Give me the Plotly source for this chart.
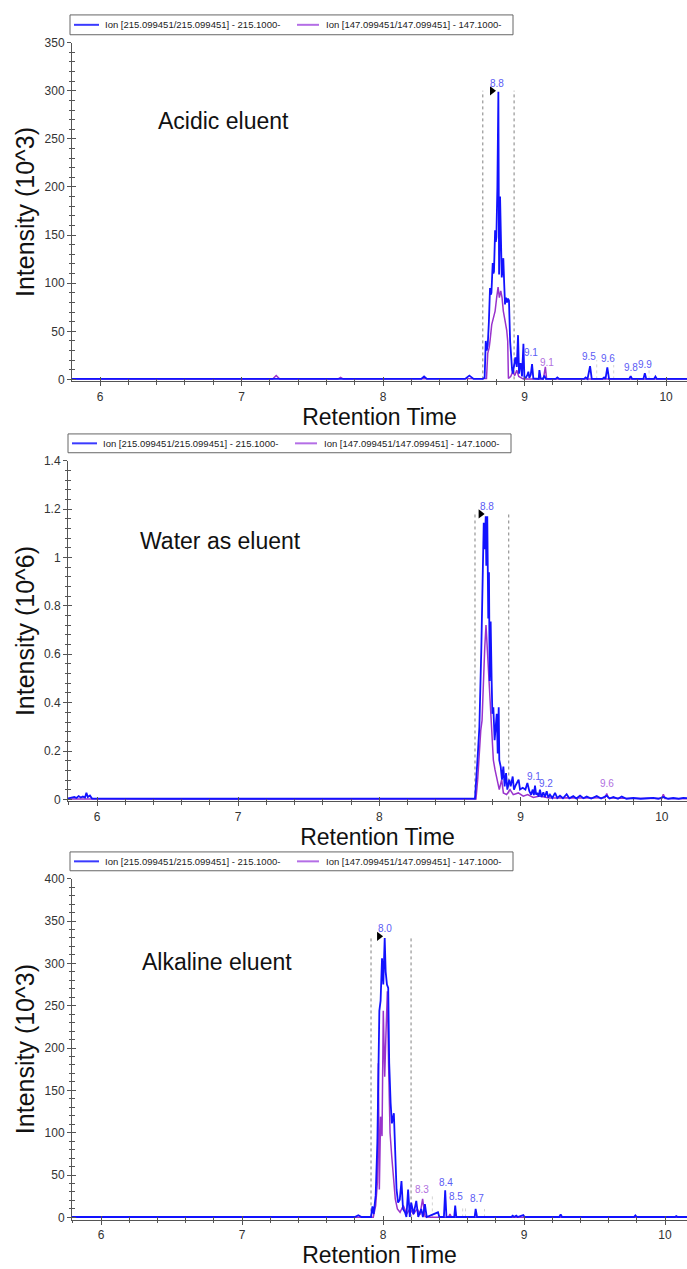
import plotly.graph_objects as go

# ---------------- DATA ----------------
NAME_215 = "Ion [215.099451/215.099451] - 215.1000-"
NAME_147 = "Ion [147.099451/147.099451] - 147.1000-"
panel_titles = ["Acidic eluent", "Water as eluent", "Alkaline eluent"]
y_titles = ["Intensity (10^3)", "Intensity (10^6)", "Intensity (10^3)"]
x_title = "Retention Time"

# (retention time, intensity) pairs
acid_215 = [(5.80, 0.5), (6.20, 0.5), (6.60, 0.5), (7.00, 0.5), (7.40, 0.5), (7.80, 0.5), (8.27, 0.5),
            (8.29, 3), (8.31, 0.5), (8.58, 0.5), (8.61, 4), (8.64, 0.5), (8.705, 0.5), (8.718, 2),
            (8.726, 40), (8.733, 30), (8.740, 36), (8.748, 60), (8.756, 95), (8.761, 88), (8.766, 90),
            (8.775, 121), (8.780, 110), (8.784, 112), (8.792, 155), (8.797, 143), (8.801, 148),
            (8.808, 200), (8.815, 299), (8.820, 109), (8.827, 190), (8.834, 154), (8.839, 106),
            (8.845, 115), (8.850, 126), (8.856, 100), (8.862, 78), (8.869, 85), (8.876, 80),
            (8.883, 84), (8.890, 82), (8.898, 40), (8.907, 16), (8.912, 10), (8.917, 6), (8.922, 12),
            (8.926, 16), (8.935, 23), (8.945, 13), (8.954, 46), (8.961, 6), (8.967, 16), (8.973, 16),
            (8.982, 3), (8.992, 37), (8.999, 1.5), (9.010, 2), (9.020, 4.6), (9.027, 8), (9.034, 1.5),
            (9.044, 5), (9.053, 16), (9.062, 1), (9.080, 0.5), (9.100, 0.5), (9.105, 9.6), (9.114, 1),
            (9.130, 0.5), (9.140, 4), (9.150, 0.5), (9.220, 0.5), (9.232, 2), (9.245, 0.5),
            (9.420, 0.5), (9.432, 2), (9.445, 0.5), (9.463, 13.7), (9.475, 0.5), (9.550, 0.5),
            (9.562, 2), (9.572, 0.5), (9.585, 12.4), (9.597, 0.5), (9.740, 0.5), (9.750, 3.5),
            (9.760, 0.5), (9.840, 0.5), (9.850, 6.5), (9.860, 0.5), (9.915, 0.5), (9.925, 3),
            (9.935, 0.5), (10.20, 0.5)]
acid_147 = [(5.80, 0.3), (6.50, 0.3), (7.22, 0.3), (7.245, 4), (7.27, 0.3), (7.68, 0.3), (7.70, 2),
            (7.72, 0.3), (8.72, 0.3), (8.731, 1), (8.740, 27), (8.750, 33), (8.756, 40), (8.768, 57),
            (8.780, 64), (8.792, 71), (8.803, 85), (8.813, 96), (8.822, 85), (8.832, 92), (8.841, 85),
            (8.850, 71), (8.862, 61), (8.874, 51), (8.881, 40), (8.886, 1), (8.902, 3), (8.917, 8),
            (8.931, 4), (8.945, 9.6), (8.959, 3), (8.978, 1.5), (8.992, 0.3), (9.133, 0.3),
            (9.147, 13), (9.156, 0.3), (10.20, 0.3)]

water_215 = [(5.79, 0.004), (5.82, 0.006), (5.84, 0.010), (5.855, 0.006), (5.87, 0.014), (5.885, 0.008),
             (5.90, 0.012), (5.915, 0.008), (5.925, 0.028), (5.935, 0.010), (5.95, 0.016),
             (5.965, 0.004), (6.10, 0.003), (6.50, 0.003), (7.00, 0.003), (7.50, 0.003), (8.00, 0.003),
             (8.50, 0.003), (8.665, 0.003), (8.677, 0.004), (8.696, 0.177), (8.708, 0.299),
             (8.722, 0.626), (8.732, 0.898), (8.739, 1.143), (8.746, 1.034), (8.753, 1.170),
             (8.757, 0.966), (8.764, 1.170), (8.771, 0.748), (8.776, 0.939), (8.781, 0.490),
             (8.788, 0.735), (8.795, 0.490), (8.800, 0.354), (8.807, 0.381), (8.816, 0.245),
             (8.831, 0.354), (8.838, 0.190), (8.845, 0.381), (8.849, 0.163), (8.859, 0.136),
             (8.868, 0.082), (8.878, 0.136), (8.887, 0.054), (8.897, 0.109), (8.906, 0.041),
             (8.920, 0.082), (8.930, 0.054), (8.944, 0.095), (8.953, 0.041), (8.967, 0.061),
             (8.986, 0.082), (8.996, 0.041), (9.015, 0.048), (9.034, 0.041), (9.048, 0.068),
             (9.062, 0.034), (9.074, 0.020), (9.086, 0.041), (9.094, 0.018), (9.102, 0.057),
             (9.110, 0.020), (9.118, 0.027), (9.128, 0.012), (9.137, 0.041), (9.148, 0.010),
             (9.161, 0.030), (9.172, 0.010), (9.185, 0.034), (9.196, 0.008), (9.208, 0.020),
             (9.225, 0.006), (9.244, 0.027), (9.260, 0.006), (9.279, 0.016), (9.300, 0.005),
             (9.326, 0.022), (9.345, 0.005), (9.373, 0.014), (9.395, 0.004), (9.421, 0.016),
             (9.445, 0.005), (9.468, 0.012), (9.500, 0.004), (9.539, 0.014), (9.570, 0.004),
             (9.610, 0.016), (9.630, 0.004), (9.657, 0.010), (9.690, 0.003), (9.716, 0.012),
             (9.750, 0.003), (9.798, 0.006), (9.850, 0.003), (9.900, 0.005), (9.940, 0.007),
             (9.975, 0.003), (10.011, 0.010), (10.045, 0.003), (10.081, 0.006), (10.120, 0.003),
             (10.152, 0.007), (10.20, 0.004)]
water_147 = [(5.79, 0.002), (8.684, 0.002), (8.696, 0.082), (8.708, 0.218), (8.718, 0.286),
             (8.727, 0.327), (8.736, 0.490), (8.746, 0.626), (8.755, 0.721), (8.764, 0.626),
             (8.774, 0.490), (8.783, 0.381), (8.795, 0.286), (8.807, 0.163), (8.819, 0.122),
             (8.835, 0.082), (8.849, 0.041), (8.866, 0.082), (8.878, 0.027), (8.901, 0.020),
             (8.925, 0.041), (8.948, 0.020), (8.984, 0.027), (9.019, 0.014), (9.050, 0.020),
             (9.090, 0.008), (9.137, 0.014), (9.200, 0.006), (9.300, 0.008), (9.373, 0.007),
             (9.450, 0.006), (9.598, 0.007), (9.610, 0.025), (9.621, 0.007), (9.700, 0.005),
             (9.845, 0.004), (9.999, 0.004), (10.011, 0.022), (10.023, 0.004), (10.20, 0.003)]

alk_215 = [(5.79, 0.5), (6.50, 0.5), (7.00, 0.5), (7.50, 0.5), (7.80, 0.5), (7.825, 2.5), (7.848, 0.5),
           (7.915, 0.5), (7.925, 13), (7.934, 4), (7.948, 26), (7.960, 88), (7.974, 244), (7.983, 256),
           (7.993, 306), (8.002, 275), (8.012, 330), (8.019, 290), (8.028, 275), (8.037, 271),
           (8.044, 182), (8.054, 135), (8.063, 111), (8.077, 123), (8.086, 72), (8.096, 33),
           (8.107, 17.5), (8.119, 21), (8.131, 43), (8.142, 10), (8.156, 6), (8.166, 0.5), (8.178, 33),
           (8.190, 0.5), (8.200, 17.5), (8.217, 4), (8.236, 19.5), (8.250, 0.5), (8.271, 10),
           (8.283, 0.5), (8.297, 15.6), (8.310, 0.5), (8.390, 6), (8.400, 0.5), (8.432, 0.5),
           (8.441, 32), (8.450, 0.5), (8.505, 0.5), (8.512, 14), (8.520, 0.5), (8.650, 0.5),
           (8.657, 10), (8.667, 0.5), (8.91, 0.5), (8.92, 2), (8.93, 0.5), (8.945, 2), (8.955, 0.5),
           (8.995, 2.7), (9.005, 0.5), (9.25, 0.5), (9.26, 3.5), (9.27, 0.5), (9.78, 0.5), (9.79, 2.5),
           (9.80, 0.5), (10.07, 0.5), (10.08, 1.5), (10.09, 0.5), (10.20, 0.5)]
alk_147 = [(5.79, 0.3), (7.931, 0.3), (7.948, 14), (7.960, 41), (7.967, 182), (7.974, 33), (7.983, 119),
           (7.993, 96), (8.002, 244), (8.012, 166), (8.021, 217), (8.031, 267), (8.040, 178),
           (8.050, 100), (8.062, 72), (8.073, 45), (8.087, 22), (8.102, 10), (8.121, 6), (8.144, 14),
           (8.168, 4), (8.191, 10), (8.215, 4), (8.243, 10), (8.262, 3), (8.281, 22), (8.298, 1),
           (8.333, 0.3), (8.465, 0.3), (8.475, 4), (8.485, 0.3), (10.20, 0.3)]

# peak labels: (text, rt, intensity, series)
acid_labels = [("8.8", 8.806, 308, "215"), ("9.1", 9.045, 27.5, "215"), ("9.1", 9.158, 18, "147"),
               ("9.5", 9.456, 23.7, "215"), ("9.6", 9.588, 21.6, "215"), ("9.8", 9.75, 12.4, "215"),
               ("9.9", 9.85, 15.4, "215")]
water_labels = [("8.8", 8.76, 1.21, "215"), ("9.1", 9.095, 0.095, "215"), ("9.2", 9.18, 0.068, "215"),
                ("9.6", 9.61, 0.064, "147")]
alk_labels = [("8.0", 8.014, 341, "215"), ("8.3", 8.279, 33.5, "147"), ("8.4", 8.447, 41, "215"),
              ("8.5", 8.52, 24.5, "215"), ("8.7", 8.669, 22, "215")]

# integration window (start, end, height) and apex marker (rt, intensity)
acid_window = (8.705, 8.926, 300)
water_window = (8.677, 8.916, 1.18)
alk_window = (7.915, 8.199, 330)
acid_marker = (8.770, 300)
water_marker = (8.717, 1.18)
alk_marker = (7.972, 332)
# faint boundaries of minor peaks (rt, height)
acid_minor = [(9.51, 20), (9.63, 15), (9.88, 12)]
water_minor = []
alk_minor = [(8.35, 25), (8.565, 12), (8.585, 12), (8.72, 10)]

y_ranges = [(-2, 350), (-0.008, 1.4), (-2.5, 400)]
y_dticks = [(50, 10), (0.2, 0.04), (50, 10)]
x_ranges = [(5.802, 10.148), (5.7946, 10.1785), (5.7943, 10.156)]

# ---------------- FIGURE ----------------
W, H = 687, 1269
BLUE = "#1212ff"
PURPLE = "#9933cc"
LEG_BLUE = "#3a3aff"
LEG_PURPLE = "#b46ee6"
LBL_BLUE = "#5c5cf5"
LBL_PURPLE = "#b070e0"
AX = "#555555"
FONT = "Liberation Sans"

panels = [
    dict(s215=acid_215, s147=acid_147, labels=acid_labels, window=acid_window, marker=acid_marker,
         minor=acid_minor, ydom=(1 - 377.9 / H, 1 - 36 / H), xdom=(72 / W, 1.0),
         title_pos=(156, 115), legend_box=(70, 8, 513, 28)),
    dict(s215=water_215, s147=water_147, labels=water_labels, window=water_window, marker=water_marker,
         minor=water_minor, ydom=(1 - 802 / H, 1 - 458 / H), xdom=(68 / W, 1.0),
         title_pos=(138, 539), legend_box=(68, 431, 511, 450)),
    dict(s215=alk_215, s147=alk_147, labels=alk_labels, window=alk_window, marker=alk_marker,
         minor=alk_minor, ydom=(1 - 1224.1 / H, 1 - 880 / H), xdom=(72 / W, 1.0),
         title_pos=(140, 964), legend_box=(70, 853, 513, 872)),
]

fig = go.Figure()
layout = dict(width=W, height=H, margin=dict(l=0, r=0, t=0, b=0), autosize=False, showlegend=False,
              paper_bgcolor="white", plot_bgcolor="white", font=dict(family=FONT, color="#222"),
              shapes=[], annotations=[])


def px_x(v):
    return v / W


def px_y(v):
    return 1 - v / H


for i, p in enumerate(panels, start=1):
    sx = "" if i == 1 else str(i)
    xa, ya = "x" + sx, "y" + sx
    ox, oy = "x" + str(i + 3), "y" + str(i + 3)

    t147, v147 = zip(*p["s147"])
    t215, v215 = zip(*p["s215"])
    fig.add_trace(go.Scatter(x=t147, y=v147, mode="lines", name=NAME_147,
                             line=dict(color=PURPLE, width=1.5), xaxis=xa, yaxis=ya, hoverinfo="skip"))
    fig.add_trace(go.Scatter(x=t215, y=v215, mode="lines", name=NAME_215,
                             line=dict(color=BLUE, width=1.8), xaxis=xa, yaxis=ya, hoverinfo="skip"))
    fig.add_trace(go.Scatter(x=[p["marker"][0]], y=[p["marker"][1]], mode="markers",
                             marker=dict(symbol="triangle-right", size=8, color="black"),
                             xaxis=xa, yaxis=ya, hoverinfo="skip", cliponaxis=False))
    fig.add_trace(go.Scatter(x=[None], y=[None], xaxis=ox, yaxis=oy, hoverinfo="skip"))

    x0, x1 = x_ranges[i - 1]
    y0, y1 = y_ranges[i - 1]
    dt, mdt = y_dticks[i - 1]
    common_x = dict(range=[x0, x1], domain=list(p["xdom"]), dtick=1, tick0=0, showgrid=False,
                    zeroline=False, fixedrange=True)
    common_y = dict(range=[y0, y1], domain=list(p["ydom"]), dtick=dt, tick0=0, showgrid=False,
                    zeroline=False, fixedrange=True)
    layout["xaxis" + sx] = dict(common_x, anchor=ya, showline=True, linecolor=AX, linewidth=1,
                                ticks="outside", ticklen=4, tickcolor=AX,
                                tickfont=dict(size=12, color="#333", family=FONT),
                                minor=dict(dtick=0.2, ticks="outside", ticklen=2.5, tickcolor=AX),
                                title=dict(text=x_title, font=dict(size=23, color="#111", family=FONT),
                                           standoff=3))
    layout["yaxis" + sx] = dict(common_y, anchor=xa, showline=True, linecolor=AX, linewidth=1,
                                ticks="outside", ticklen=4, tickcolor=AX,
                                tickfont=dict(size=12, color="#333", family=FONT),
                                minor=dict(dtick=mdt, ticks="outside", ticklen=2.5, tickcolor=AX),
                                title=dict(text=y_titles[i - 1], font=dict(size=25, color="#111", family=FONT),
                                           standoff=2))
    layout["xaxis" + str(i + 3)] = dict(common_x, overlaying=xa, anchor=oy, showline=False,
                                        showticklabels=False, ticks="inside", ticklen=4, tickcolor=AX,
                                        minor=dict(dtick=0.2, ticks="inside", ticklen=2.5, tickcolor=AX))
    layout["yaxis" + str(i + 3)] = dict(common_y, overlaying=ya, anchor=ox, showline=False,
                                        showticklabels=False, ticks="inside", ticklen=4, tickcolor=AX,
                                        minor=dict(dtick=mdt, ticks="inside", ticklen=2.5, tickcolor=AX))

    # integration window
    ws, we, wh = p["window"]
    for xv in (ws, we):
        layout["shapes"].append(dict(type="line", xref=xa, yref=ya, x0=xv, x1=xv, y0=0, y1=wh,
                                     line=dict(color="#808080", width=1, dash="dot"), layer="below"))
    for xv, hv in p["minor"]:
        layout["shapes"].append(dict(type="line", xref=xa, yref=ya, x0=xv, x1=xv, y0=0, y1=hv,
                                     line=dict(color="#d4d4d4", width=1, dash="dot"), layer="below"))
    # peak labels
    for txt, rt, iv, ser in p["labels"]:
        layout["annotations"].append(dict(text=txt, x=rt, y=iv, xref=xa, yref=ya, showarrow=False,
                                          xanchor="center", yanchor="middle", borderpad=0,
                                          font=dict(size=10, family=FONT,
                                                    color=LBL_BLUE if ser == "215" else LBL_PURPLE)))
    # panel title
    tx, ty = p["title_pos"]
    layout["annotations"].append(dict(text=panel_titles[i - 1], x=px_x(tx), y=px_y(ty), xref="paper",
                                      yref="paper", showarrow=False, xanchor="left", yanchor="middle",
                                      font=dict(size=23, color="#111", family=FONT)))
    # legend box (drawn)
    bx0, by0, bx1, by1 = p["legend_box"]
    cy = (by0 + by1) / 2
    layout["shapes"].append(dict(type="rect", xref="paper", yref="paper", x0=px_x(bx0), x1=px_x(bx1),
                                 y0=px_y(by1), y1=px_y(by0), line=dict(color="#666", width=1),
                                 fillcolor="white", layer="above"))
    for sx0, sx1, col, name, tx0 in ((bx0 + 4, bx0 + 29, LEG_BLUE, NAME_215, bx0 + 34),
                                     (bx0 + 227, bx0 + 249, LEG_PURPLE, NAME_147, bx0 + 255)):
        layout["shapes"].append(dict(type="line", xref="paper", yref="paper", x0=px_x(sx0), x1=px_x(sx1),
                                     y0=px_y(cy), y1=px_y(cy), line=dict(color=col, width=2), layer="above"))
        layout["annotations"].append(dict(text=name, x=px_x(tx0), y=px_y(cy), xref="paper", yref="paper",
                                          showarrow=False, xanchor="left", yanchor="middle", borderpad=0,
                                          font=dict(size=9.5, family=FONT, color="#222")))

fig.update_layout(**layout)
fig.write_html("out.html")
